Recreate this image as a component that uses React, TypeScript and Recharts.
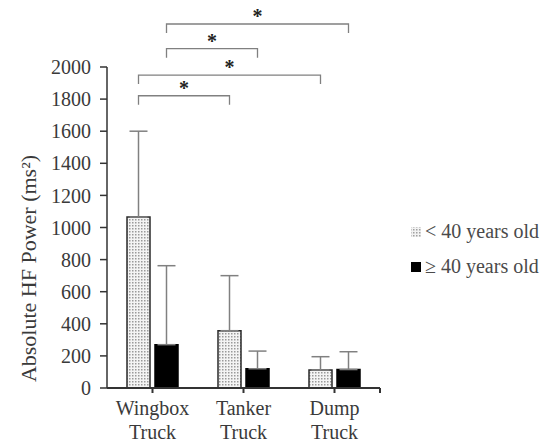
import React from 'react';
import { BarChart, Bar, XAxis, YAxis, ErrorBar, ReferenceLine, Legend } from 'recharts';

const categories = ['Wingbox Truck', 'Tanker Truck', 'Dump Truck'];
const under40 = [1065, 357, 112];
const under40Sd = [535, 343, 83];
const over40 = [270, 120, 115];
const over40Sd = [492, 110, 111];
const yTicks = [0, 200, 400, 600, 800, 1000, 1200, 1400, 1600, 1800, 2000];
const seriesNames = ['< 40 years old', '\u2265 40 years old'];

// significance brackets: which series, between which categories, at what height
const brackets = [
  { series: 0, from: 0, to: 1, level: 1821 },
  { series: 0, from: 0, to: 2, level: 1950 },
  { series: 1, from: 0, to: 1, level: 2114 },
  { series: 1, from: 0, to: 2, level: 2268 },
];

// categories sit at the middle of unit slots on a numeric axis
const data = categories.map((name, i) => ({
  name,
  pos: i + 0.5,
  young: under40[i],
  youngErr: [0, under40Sd[i]],
  old: over40[i],
  oldErr: [0, over40Sd[i]],
}));
const xTicks = [...data.map((d) => d.pos), categories.length];

const FONT = '"Liberation Serif", "DejaVu Serif", serif';
const TEXT = '#3a3a3a';
const AXIS = '#333333';
const GREY = '#808080';

const W = 549;
const H = 446;
const MARGIN = { top: 67, right: 169, bottom: 8, left: 47 };
const Y_AXIS_W = 60;
const PLOT_W = W - MARGIN.left - MARGIN.right - Y_AXIS_W;
const BAR_SIZE = 23;
const BAR_GAP = 5;
// bar centre offset from category centre, in axis units
const barShift = (BAR_SIZE + BAR_GAP) / 2 / (PLOT_W / categories.length);
const barX = (cat: number, series: number) => cat + 0.5 + (series === 0 ? -barShift : barShift);

const bracketShape = (p: any) => {
  const { x1, y1, x2, y2 } = p;
  return (
    <path
      d={`M${x1},${y1 + 9}L${x1},${y1}L${x2},${y2}L${x2},${y2 + 9}`}
      fill="none"
      stroke={GREY}
      strokeWidth={1.3}
    />
  );
};

const CatTick = ({ x, y, payload }: any) => {
  const name = categories[Math.floor(payload.value)];
  if (!name) return null;
  const [a, b] = name.split(' ');
  return (
    <text textAnchor="middle" fill={TEXT} fontFamily={FONT} fontSize={20}>
      <tspan x={x} y={y + 20}>{a}</tspan>
      <tspan x={x} y={y + 44}>{b}</tspan>
    </text>
  );
};

const YLabel = ({ viewBox }: any) => {
  const cx = viewBox.x - 19;
  const cy = viewBox.y + viewBox.height / 2 + 41;
  return (
    <text
      x={cx}
      y={cy}
      transform={`rotate(-90 ${cx} ${cy})`}
      textAnchor="middle"
      dominantBaseline="central"
      fill={TEXT}
      fontFamily={FONT}
      fontSize={22}
    >
      Absolute HF Power (ms²)
    </text>
  );
};

const LegendBox = () => (
  <div style={{ fontFamily: FONT, fontSize: 20, color: '#4a4a4a', lineHeight: '35px' }}>
    {seriesNames.map((s, i) => (
      <div key={s} style={{ display: 'flex', alignItems: 'center' }}>
        <svg width={12} height={12} style={{ marginRight: 3 }}>
          <defs>
            <pattern id={`lg${i}`} width="3" height="3" patternUnits="userSpaceOnUse">
              <rect width="3" height="3" fill="#f2f2f2" />
              <rect width="1.5" height="1.5" fill="#a0a0a0" />
            </pattern>
          </defs>
          <rect x={1} y={1} width={10} height={10} fill={i === 0 ? `url(#lg${i})` : '#000'} />
        </svg>
        <span>{s}</span>
      </div>
    ))}
  </div>
);

export default function App() {
  return (
    <div style={{ position: 'absolute', left: 0, top: 0, background: '#fff' }}>
      <BarChart width={W} height={H} data={data} margin={MARGIN} barSize={BAR_SIZE} barGap={BAR_GAP}>
        <defs>
          <pattern id="dots" width="3" height="3" patternUnits="userSpaceOnUse">
            <rect width="3" height="3" fill="#f4f4f4" />
            <rect width="1.5" height="1.5" fill="#9a9a9a" />
          </pattern>
        </defs>
        <XAxis
          dataKey="pos"
          type="number"
          domain={[0, categories.length]}
          ticks={xTicks}
          interval={0}
          allowDataOverflow
          height={50}
          tick={<CatTick />}
          tickSize={5}
          stroke={AXIS}
          strokeWidth={2}
        />
        <YAxis
          width={Y_AXIS_W}
          domain={[0, 2000]}
          ticks={yTicks}
          interval={0}
          allowDataOverflow
          tickSize={7}
          tickMargin={9}
          tick={{ fill: TEXT, fontFamily: FONT, fontSize: 20 }}
          axisLine={{ stroke: AXIS, strokeWidth: 1.5 }}
          tickLine={{ stroke: AXIS, strokeWidth: 1.5 }}
          label={<YLabel />}
        />
        <Legend
          layout="vertical"
          align="center"
          verticalAlign="middle"
          content={<LegendBox />}
          wrapperStyle={{ left: 410, top: 214, width: 140 }}
        />
        <Bar dataKey="young" name={seriesNames[0]} fill="url(#dots)" stroke="#2a2a2a" strokeWidth={1.5} isAnimationActive={false}>
          <ErrorBar dataKey="youngErr" width={9} stroke={GREY} strokeWidth={1.5} />
        </Bar>
        <Bar dataKey="old" name={seriesNames[1]} fill="#000" stroke="#000" strokeWidth={1.5} isAnimationActive={false}>
          <ErrorBar dataKey="oldErr" width={9} stroke={GREY} strokeWidth={1.5} />
        </Bar>
        {brackets.map((b, i) => (
          <ReferenceLine
            key={i}
            ifOverflow="visible"
            segment={[
              { x: barX(b.from, b.series), y: b.level },
              { x: barX(b.to, b.series), y: b.level },
            ]}
            shape={bracketShape}
            label={{ value: '*', position: 'top', offset: 1, fill: '#222', fontFamily: FONT, fontSize: 20, fontWeight: 700 }}
          />
        ))}
      </BarChart>
    </div>
  );
}
